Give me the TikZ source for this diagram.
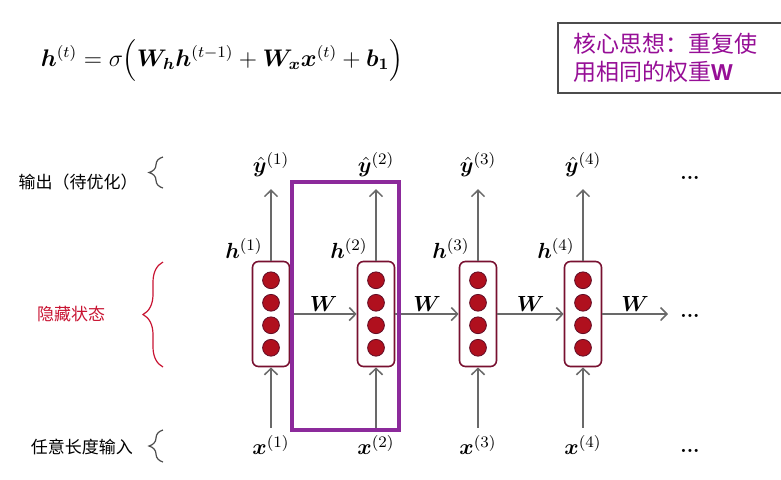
\documentclass[tikz,border=0pt]{standalone}
\usepackage{amsmath,amssymb}
\usepackage{bm}
\usepackage{fontspec}
\setsansfont{Liberation Sans}
\newfontfamily\cjk{Noto Sans CJK SC}
\usetikzlibrary{arrows.meta,positioning,decorations.pathreplacing}
\definecolor{cellred}{RGB}{176,16,30}
\definecolor{cellrim}{RGB}{120,16,48}
\definecolor{framepurple}{RGB}{140,42,155}
\definecolor{ideamagenta}{RGB}{150,14,150}
\definecolor{arrowgray}{RGB}{105,105,105}
\definecolor{hiddenred}{RGB}{200,20,50}
\tikzset{
  cellbox/.style={rectangle,rounded corners=3pt,draw=cellrim,line width=0.8pt,fill=white,minimum width=18.5pt,minimum height=52.5pt,inner sep=0pt},
  unit/.style={circle,fill=cellred,draw=cellrim!80!black,line width=0.4pt,minimum size=8.4pt,inner sep=0pt},
  mathlbl/.style={font=\fontsize{11}{13}\selectfont,text=black},
  sidelbl/.style={font=\cjk\fontsize{8.5}{10}\selectfont},
  arr/.style={-{Straight Barb[length=3.2pt,width=6.5pt]},line width=0.75pt,color=arrowgray},
  brc/.style={decorate,decoration={brace,amplitude=#1},line width=0.6pt}
}
\begin{document}
\begin{tikzpicture}[x=0.5pt,y=-0.5pt]
  \clip (0,0) rectangle (781,479);
  % update rule
  \node[mathlbl,font=\fontsize{11.6}{14}\selectfont] (eq) at (222,60)
      {$\bm{h}^{(t)}=\sigma\Big(\bm{W}_{\bm h}\bm{h}^{(t-1)}+\bm{W}_{\bm x}\bm{x}^{(t)}+\bm{b}_{\bm 1}\Big)$};
  \draw[black!70,line width=1pt] (558,23) rectangle (790,93);
  \node[anchor=west,align=left,text=ideamagenta,font=\cjk\fontsize{11.5}{14}\selectfont] (idea) at (566,58)
      {核心思想：重复使\\用相同的权重{\sffamily\bfseries W}};

  % side labels
  \node[sidelbl] (lout) at (78,182) {输出（待优化）};
  \node[sidelbl,text=hiddenred] (lhid) at (71,314) {隐藏状态};
  \node[sidelbl] (lin) at (82,447) {任意长度输入};
  \draw[brc=7pt,black!70] (163,188) -- (163,157);
  \draw[brc=10pt,hiddenred] (163,367) -- (163,262);
  \draw[brc=7pt,black!70] (163,462) -- (163,430);

  % unrolled cells
  \foreach \i/\cx in {1/271,2/376,3/478,4/583} {
    \node[cellbox] (h\i) at (\cx,314) {};
    \foreach \dy [count=\k] in {-33.75,-11.25,11.25,33.75}
      \node[unit] (u\i\k) at (\cx,{314+\dy}) {};
    \node[mathlbl] (y\i) at (\cx,165) {$\hat{\bm y}^{(\i)}$};
    \node[mathlbl] (x\i) at (\cx,445) {$\bm{x}^{(\i)}$};
    \node[mathlbl,anchor=south east,inner sep=1pt] (hl\i) at ([xshift=-3pt]h\i.north) {$\bm{h}^{(\i)}$};
    \draw[arr,shorten >=2.5pt] (h\i.north) -- (y\i.south);
    \draw[arr] (x\i.north) -- (h\i.south);
  }
  \foreach \a/\b in {1/2,2/3,3/4}
    \draw[arr] (h\a.east) -- (h\b.west) node[midway,above,mathlbl,inner sep=1pt] (w\a) {$\bm W$};
  \coordinate (hend) at (668,314);
  \draw[arr] (h4.east) -- (hend) node[midway,above,mathlbl,inner sep=1pt] (w4) {$\bm W$};

  \node (dtop) at (690,178) {\textbf{...}};
  \node (dmid) at (690,316) {\textbf{...}};
  \node (dbot) at (690,451) {\textbf{...}};

  % shared weights, one step
  \draw[framepurple,line width=2.25pt] (292,182) rectangle (399,430);
\end{tikzpicture}
\end{document}
